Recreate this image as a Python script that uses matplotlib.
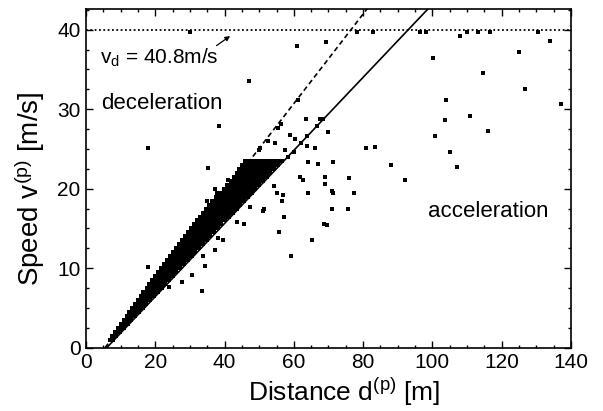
import matplotlib
matplotlib.use("Agg")
import matplotlib.pyplot as plt
from matplotlib.ticker import MultipleLocator

plt.rcParams['font.family'] = ['Liberation Sans', 'DejaVu Sans']
plt.rcParams['mathtext.fontset'] = 'custom'
plt.rcParams['mathtext.rm'] = 'Liberation Sans'
plt.rcParams['mathtext.it'] = 'Liberation Sans'

# ---- dense band (rows of equal speed, distances) ----
band_low_v = [1.0, 1.5, 2.0, 2.5, 3.0, 3.5, 4.0, 4.5, 5.0, 5.5, 6.0, 6.5, 7.0, 7.5, 8.0]
band_low_d = [
    [6.8, 7.7], [7.6, 8.7], [8.4, 9.1, 9.8], [9.2, 10.0, 10.9], [10.1, 11.0, 12.0],
    [10.9, 12.0, 13.1], [11.7, 12.5, 13.4, 14.2], [12.5, 13.4, 14.4, 15.3],
    [13.4, 14.4, 15.4, 16.4], [14.2, 15.3, 16.3, 17.4], [15.0, 15.9, 16.8, 17.6, 18.5],
    [15.8, 16.8, 17.7, 18.7, 19.6], [16.6, 17.6, 18.7, 19.7, 20.7],
    [17.5, 18.6, 19.6, 20.7, 21.8], [18.3, 19.2, 20.1, 21.1, 22.0, 22.9],
]
band_mid_v = [8.5, 9.0, 9.5, 10.0, 10.5, 11.0, 11.5, 12.0, 12.5, 13.0, 13.5, 14.0, 14.5, 15.0, 15.5, 16.0]
band_mid_d = [
    [19.1, 20.1, 21.0, 22.0, 22.9, 23.9], [19.9, 20.9, 21.9, 23.0, 24.0, 25.0],
    [20.8, 21.9, 22.9, 24.0, 25.0, 26.1], [21.7, 22.8, 23.9, 25.0, 26.1, 27.2],
    [22.6, 23.6, 24.5, 25.5, 26.4, 27.4, 28.3], [23.4, 24.4, 25.4, 26.4, 27.4, 28.4, 29.4],
    [24.3, 25.3, 26.4, 27.4, 28.4, 29.5, 30.5], [25.1, 26.2, 27.2, 28.3, 29.4, 30.4, 31.5],
    [26.0, 27.1, 28.2, 29.3, 30.4, 31.5, 32.6],
    [26.9, 27.9, 28.8, 29.8, 30.8, 31.8, 32.7, 33.7],
    [27.7, 28.7, 29.7, 30.7, 31.8, 32.8, 33.8, 34.8],
    [28.6, 29.6, 30.7, 31.7, 32.8, 33.8, 34.9, 35.9],
    [29.4, 30.5, 31.6, 32.7, 33.7, 34.8, 35.9, 37.0],
    [30.3, 31.3, 32.2, 33.2, 34.2, 35.2, 36.2, 37.1, 38.1],
    [31.2, 32.2, 33.2, 34.2, 35.2, 36.1, 37.1, 38.1, 39.1],
    [32.0, 33.0, 34.1, 35.1, 36.1, 37.1, 38.2, 39.2, 40.2],
]
band_high_v = [16.5, 17.0, 17.5, 18.0, 18.5, 19.0, 19.5, 20.0, 20.5, 21.0, 21.5, 22.0, 22.5, 23.0, 23.5]
band_high_d = [
    [32.9, 33.9, 35.0, 36.0, 37.1, 38.2, 39.2, 40.3, 41.3],
    [33.7, 34.8, 35.9, 37.0, 38.1, 39.1, 40.2, 41.3, 42.4],
    [34.6, 35.6, 36.6, 37.6, 38.6, 39.5, 40.5, 41.5, 42.5, 43.5],
    [35.5, 36.5, 37.5, 38.5, 39.5, 40.6, 41.6, 42.6, 43.6, 44.6],
    [36.4, 37.4, 38.4, 39.5, 40.5, 41.5, 42.5, 43.6, 44.6, 45.6],
    [37.5, 38.5, 39.5, 40.6, 41.6, 42.6, 43.6, 44.7, 45.7, 46.7],
    [38.6, 39.6, 40.6, 41.7, 42.7, 43.7, 44.7, 45.8, 46.8, 47.8],
    [39.7, 40.7, 41.7, 42.8, 43.8, 44.8, 45.8, 46.9, 47.9, 48.9],
    [40.8, 41.8, 42.8, 43.9, 44.9, 45.9, 46.9, 48.0, 49.0, 50.0],
    [41.9, 42.9, 43.9, 45.0, 46.0, 47.0, 48.0, 49.1, 50.1, 51.1],
    [42.7, 43.8, 44.8, 45.9, 46.9, 48.0, 49.0, 50.1, 51.1, 52.2],
    [43.5, 44.6, 45.7, 46.7, 47.8, 48.9, 50.0, 51.0, 52.1, 53.2],
    [44.3, 45.3, 46.3, 47.3, 48.3, 49.3, 50.3, 51.3, 52.3, 53.3, 54.3],
    [45.0, 46.0, 47.1, 48.1, 49.2, 50.2, 51.2, 52.3, 53.3, 54.4, 55.4],
    [45.8, 46.9, 47.9, 49.0, 50.1, 51.2, 52.2, 53.3, 54.4, 55.4, 56.5],
]

# ---- isolated measurements ----
iso_d = [30.0, 61.0, 69.2, 78.1, 82.8, 96.4, 98.2, 100.3, 108.0, 110.1, 113.3, 116.6,
         130.6, 134.0, 125.1, 114.5, 126.8, 137.0, 103.9, 103.6, 110.9, 116.1, 100.8,
         105.0, 107.2, 80.8, 83.4, 88.0, 92.1, 76.0, 77.5, 71.1, 71.4, 69.0, 69.0, 71.2,
         66.9, 64.2, 66.1, 63.7, 69.9, 63.4, 66.7, 67.6, 68.3, 63.9, 62.7, 61.8, 64.0,
         71.1, 75.5, 68.7, 69.5, 65.2, 47.1, 38.3, 17.9, 35.3, 61.3, 56.2, 55.5, 52.5,
         49.8, 50.2, 54.6, 58.9, 60.3, 57.4, 60.1, 58.4, 62.1, 54.4, 55.2, 57.0, 56.7,
         47.3, 51.0, 51.5, 57.3, 43.5, 45.7, 55.7, 59.1, 37.2, 37.7, 41.1, 34.8, 38.2,
         39.6, 37.2, 33.9, 34.4, 30.5, 27.8, 33.6, 24.1, 17.8]
iso_v = [39.7, 38.0, 38.5, 39.7, 39.7, 39.7, 39.7, 36.5, 39.2, 39.7, 39.7, 39.7,
         39.7, 38.6, 37.2, 34.6, 32.6, 30.6, 31.2, 28.6, 29.2, 27.2, 26.6,
         24.6, 22.7, 25.1, 25.3, 23.0, 21.1, 21.4, 19.4, 19.7, 19.4, 21.5, 20.6, 23.3,
         23.1, 23.4, 25.1, 25.4, 27.1, 28.8, 27.9, 28.8, 28.8, 26.6, 21.1, 21.5, 19.4,
         17.4, 17.4, 15.5, 15.4, 13.5, 33.5, 27.9, 25.1, 22.6, 31.1, 28.1, 27.6, 26.0,
         24.9, 25.1, 25.8, 26.8, 26.3, 24.9, 24.6, 24.0, 25.7, 20.4, 19.5, 19.2, 18.4,
         17.7, 17.2, 17.4, 16.4, 15.8, 15.5, 14.5, 11.5, 19.9, 19.5, 21.1, 18.4, 13.8,
         13.5, 12.3, 11.5, 10.3, 9.1, 8.3, 7.1, 7.6, 10.1]

# ---- reference lines ----
solid_d = [6.0, 100.0]
solid_v = [0.0, 43.2]
dashed_d = [5.5, 82.0]
dashed_v = [0.0, 43.1]
vd_level = 39.9

fig = plt.figure(figsize=(6.03, 4.11), dpi=100)
ax = fig.add_axes([0.1426, 0.154, 0.8043, 0.8241])

mk = dict(marker='s', ms=3.0, mew=0, color='black', ls='none')
for vs, ds in [(band_low_v, band_low_d), (band_mid_v, band_mid_d), (band_high_v, band_high_d)]:
    for v, row in zip(vs, ds):
        ax.plot(row, [v] * len(row), **mk)
ax.plot(iso_d, iso_v, **mk)

ax.plot(solid_d, solid_v, color='black', lw=1.2)
ax.plot(dashed_d, dashed_v, color='black', lw=1.2, ls=(0, (3.0, 2.0)))
ax.axhline(vd_level, color='black', lw=1.3, ls=(0, (1, 1.4)))

ax.text(4.0, 35.7, r'v$_\mathrm{d}$ = 40.8m/s', fontsize=15, va='baseline', ha='left')
ax.annotate('', xy=(41.6, 39.2), xytext=(37.7, 38.0),
            arrowprops=dict(arrowstyle='-|>', lw=0.9, color='black', mutation_scale=7,
                            shrinkA=0, shrinkB=0))
ax.text(4.3, 30.0, 'deceleration', fontsize=16, va='baseline', ha='left')
ax.text(98.8, 16.5, 'acceleration', fontsize=16, va='baseline', ha='left')

ax.set_xlim(0, 140)
ax.set_ylim(0, 42.6)
ax.xaxis.set_major_locator(MultipleLocator(20))
ax.xaxis.set_minor_locator(MultipleLocator(5))
ax.yaxis.set_major_locator(MultipleLocator(10))
ax.yaxis.set_minor_locator(MultipleLocator(2.5))
ax.tick_params(which='both', direction='in', top=True, right=True, width=1.0)
ax.tick_params(which='major', length=5, labelsize=15, pad=4)
ax.tick_params(which='minor', length=2.5)
for s in ax.spines.values():
    s.set_linewidth(1.2)

ax.set_xlabel(r'Distance d$^{\mathrm{(p)}}$ [m]', fontsize=19)
ax.set_ylabel(r'Speed v$^{\mathrm{(p)}}$ [m/s]', fontsize=20)
ax.xaxis.set_label_coords(0.532, -0.082)
ax.yaxis.set_label_coords(-0.080, 0.469)

fig.savefig('out.png', dpi=100)
